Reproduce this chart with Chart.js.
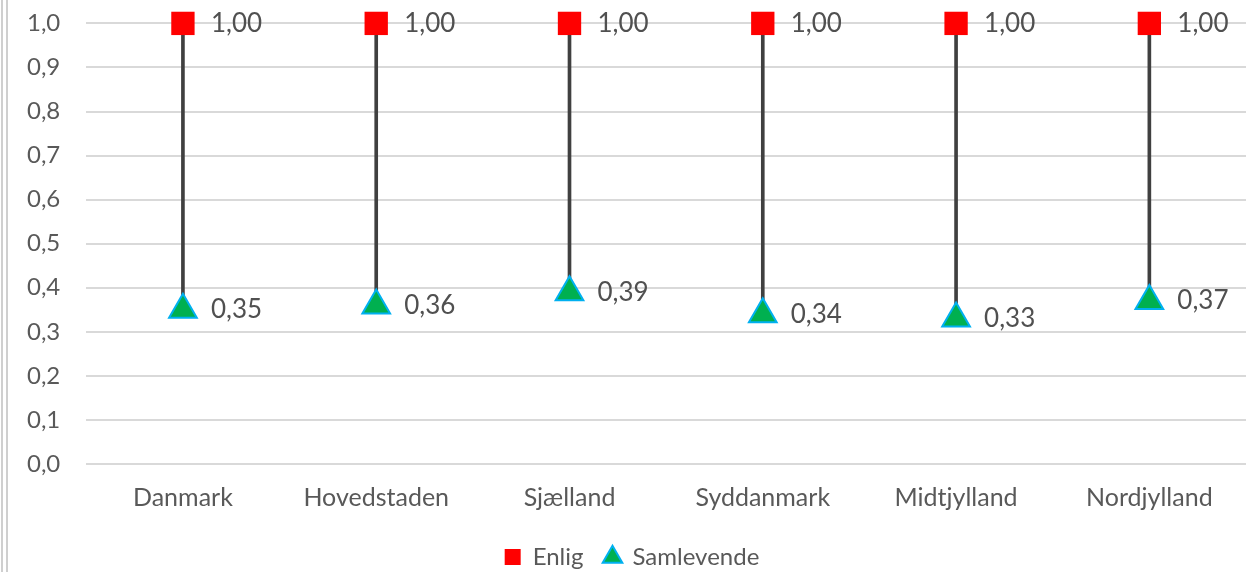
<!DOCTYPE html>
<html lang="da">
<head>
<meta charset="UTF-8">
<title>Enlig og samlevende</title>
<script src="https://cdn.jsdelivr.net/npm/chart.js"></script>
<style>
    html, body { margin: 0; padding: 0; background: #fff; overflow: hidden; }
    .wrap { position: relative; width: 1246px; height: 572px; }
    .wrap canvas { display: block; }
    .edge { position: absolute; left: 1px; top: 0; height: 572px; border-left: 7px double #cfcfcf; }
</style>
</head>
<body>
<div class="wrap">
    <canvas id="chart"></canvas>
    <div class="edge"></div>
</div>
<script>
    const regions = ['Danmark', 'Hovedstaden', 'Sjælland', 'Syddanmark', 'Midtjylland', 'Nordjylland'];
    const enlig = [1.00, 1.00, 1.00, 1.00, 1.00, 1.00];
    const samlevende = [0.35, 0.36, 0.39, 0.34, 0.33, 0.37];

    const FONT = 'Lato, "Open Sans", sans-serif';
    const comma = (v, d) => v.toFixed(d).replace('.', ',');

    // value labels to the right of each marker
    const valueLabels = {
        id: 'valueLabels',
        afterDatasetsDraw(chart) {
            const ctx = chart.ctx;
            ctx.save();
            ctx.font = '26px ' + FONT;
            ctx.fillStyle = '#505050';
            ctx.textAlign = 'left';
            ctx.textBaseline = 'middle';
            [0, 1].forEach(i => {
                const meta = chart.getDatasetMeta(i);
                meta.data.forEach((pt, j) => {
                    ctx.fillText(comma(chart.data.datasets[i].data[j], 2), pt.x + 28, pt.y);
                });
            });
            ctx.restore();
        }
    };

    new Chart(document.getElementById('chart'), {
        type: 'bar',
        data: {
            labels: regions,
            datasets: [
                {
                    type: 'line',
                    label: 'Enlig',
                    data: enlig,
                    showLine: false,
                    pointStyle: 'rect',
                    pointRadius: 16.5,
                    pointBorderWidth: 0,
                    pointBackgroundColor: '#ff0000',
                    pointBorderColor: '#ff0000',
                    order: 1,
                    clip: false
                },
                {
                    type: 'line',
                    label: 'Samlevende',
                    data: samlevende,
                    showLine: false,
                    pointStyle: 'triangle',
                    pointRadius: 16,
                    pointBorderWidth: 2,
                    pointBackgroundColor: '#00b050',
                    pointBorderColor: '#00b0f0',
                    order: 1,
                    clip: false
                },
                {
                    // high-low connector between the two series
                    label: 'range',
                    data: regions.map((r, i) => [samlevende[i], enlig[i]]),
                    backgroundColor: '#404040',
                    barThickness: 3,
                    order: 3
                }
            ]
        },
        options: {
            responsive: true,
            maintainAspectRatio: false,
            animation: false,
            layout: { autoPadding: false, padding: { top: 0, left: 18, right: 0, bottom: -7 } },
            scales: {
                x: {
                    offset: true,
                    grid: { display: false },
                    border: { display: false },
                    ticks: { color: '#595959', font: { family: FONT, size: 25 }, padding: 11 }
                },
                y: {
                    min: 0,
                    max: 1,
                    // invisible tick marks keep the labels clear of the grid
                    grid: { color: '#d9d9d9', lineWidth: 2, drawTicks: true, tickLength: 17, tickColor: 'rgba(0,0,0,0)' },
                    border: { display: false },
                    ticks: {
                        stepSize: 0.1,
                        padding: 9,
                        color: '#595959',
                        font: { family: FONT, size: 24 },
                        callback: v => comma(v, 1)
                    }
                }
            },
            plugins: {
                tooltip: { enabled: false },
                legend: {
                    position: 'bottom',
                    labels: {
                        usePointStyle: true,
                        boxWidth: 16,
                        boxHeight: 16,
                        padding: 21,
                        color: '#595959',
                        font: { family: FONT, size: 24 },
                        filter: item => item.datasetIndex !== 2
                    }
                }
            }
        },
        plugins: [valueLabels]
    });
</script>
</body>
</html>
